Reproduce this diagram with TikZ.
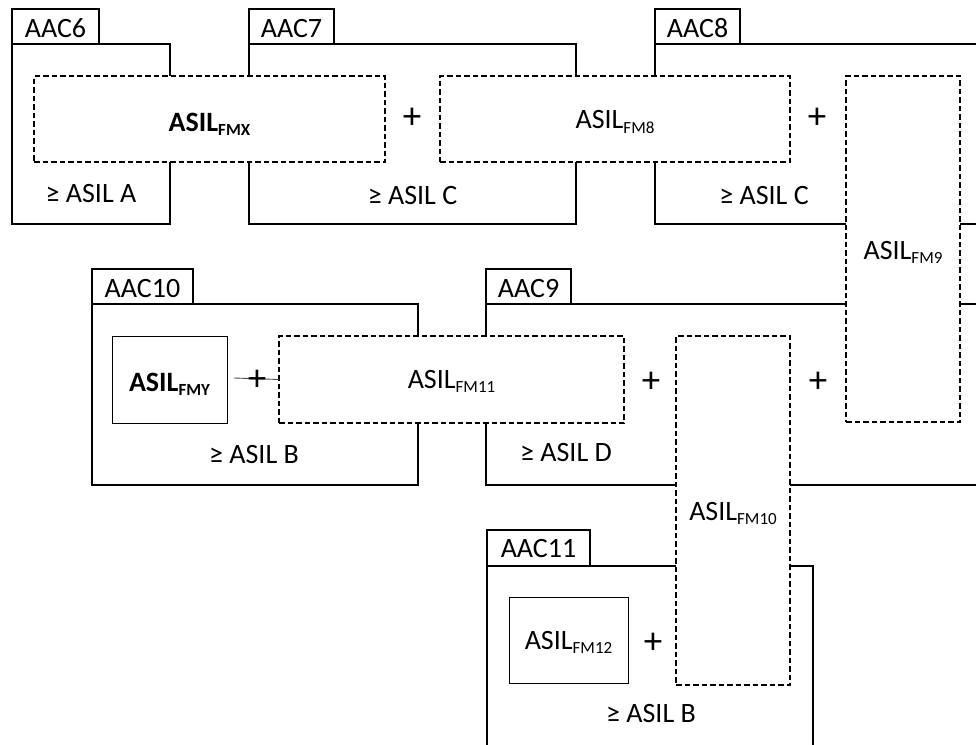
\documentclass[tikz,border=0pt]{standalone}
\usepackage{fontspec}
\setmainfont{Carlito}
\newcommand{\subfm}[1]{\raisebox{-4.5pt}{\fontsize{17}{18}\selectfont #1}}
\begin{document}
\begin{tikzpicture}[x=1pt,y=-1pt,
  every node/.style={inner sep=0pt, outer sep=0pt},
  txt/.style={font=\fontsize{28}{31}\selectfont, anchor=base},
  plussign/.style={font=\fontsize{37}{40}\selectfont},
  aacbox/.style={draw, line width=2.6pt, rectangle},
  tabbox/.style={draw, line width=2.6pt, rectangle, minimum height=35pt},
  fmdash/.style={draw, dash pattern=on 5.5pt off 3pt, line width=1.3pt, fill=white, rectangle},
  fmsolid/.style={draw, line width=0.8pt, fill=white, rectangle},
  joinline/.style={line width=0.9pt, black!70}
]
\useasboundingbox (0,0) rectangle (976,744);
\clip (0,0) rectangle (976,744);

% ---------- AAC containers ----------
\node[aacbox, minimum width=158pt, minimum height=180pt] (aac6) at (91,134) {};
\node[tabbox, minimum width=87pt] (aac6t) at (55.5,26.5) {};
\node[txt] (aac6l) at (55.5,37) {AAC6};
\node[txt] (aac6r) at (91,202) {≥ ASIL A};

\node[aacbox, minimum width=327pt, minimum height=180pt] (aac7) at (412.5,134) {};
\node[tabbox, minimum width=85pt] (aac7t) at (291.5,26.5) {};
\node[txt] (aac7l) at (291.5,37) {AAC7};
\node[txt] (aac7r) at (412.5,204) {≥ ASIL C};

\node[aacbox, minimum width=345pt, minimum height=180pt] (aac8) at (827.5,134) {};
\node[tabbox, minimum width=85pt] (aac8t) at (697.5,26.5) {};
\node[txt] (aac8l) at (697.5,37) {AAC8};
\node[txt] (aac8r) at (764,204) {≥ ASIL C};

\node[aacbox, minimum width=326pt, minimum height=181pt] (aac10) at (255,394.5) {};
\node[tabbox, minimum width=101pt] (aac10t) at (142.5,286.5) {};
\node[txt] (aac10l) at (142.5,297) {AAC10};
\node[txt] (aac10r) at (254,463) {≥ ASIL B};

\node[aacbox, minimum width=514pt, minimum height=181pt] (aac9) at (743,394.5) {};
\node[tabbox, minimum width=85pt] (aac9t) at (528.5,286.5) {};
\node[txt] (aac9l) at (528.5,297) {AAC9};
\node[txt] (aac9r) at (566,461) {≥ ASIL D};

\node[aacbox, minimum width=326pt, minimum height=214pt] (aac11) at (650,673) {};
\node[tabbox, minimum width=103pt, minimum height=36pt] (aac11t) at (538.5,548) {};
\node[txt] (aac11l) at (538.5,557) {AAC11};
\node[txt] (aac11r) at (651,722) {≥ ASIL B};

% ---------- failure-mode boxes ----------
\node[fmdash, minimum width=351pt, minimum height=86pt] (fmx) at (209.5,119) {};
\node[txt] (fmxl) at (209.5,131) {\textbf{ASIL\subfm{FMX}}};

\node[fmdash, minimum width=350pt, minimum height=86pt] (fm8) at (615,119) {};
\node[txt] (fm8l) at (615,128.5) {ASIL\subfm{FM8}};

\node[fmdash, minimum width=114pt, minimum height=346pt] (fm9) at (903,249) {};
\node[txt] (fm9l) at (903,259) {ASIL\subfm{FM9}};

\node[fmsolid, minimum width=115pt, minimum height=87pt] (fmy) at (169.5,379.5) {};
\node[txt] (fmyl) at (169.5,391) {\textbf{ASIL\subfm{FMY}}};

\node[fmdash, minimum width=345pt, minimum height=87pt] (fm11) at (451.5,379.5) {};
\node[txt] (fm11l) at (451.5,388) {ASIL\subfm{FM11}};

\node[fmdash, minimum width=114pt, minimum height=349pt] (fm10) at (733,510.5) {};
\node[txt] (fm10l) at (733,520) {ASIL\subfm{FM10}};

\node[fmsolid, minimum width=119pt, minimum height=86pt] (fm12) at (568.5,640) {};
\node[txt] (fm12l) at (568.5,649) {ASIL\subfm{FM12}};

% ---------- connector FMY -- FM11 ----------
\coordinate (lnS) at (234,378);
\draw[joinline] (lnS) -- (fm11.west);

% ---------- plus signs ----------
\node[plussign] (p1) at (412,118) {+};
\node[plussign] (p2) at (817,118) {+};
\node[plussign] (p3) at (257,380) {+};
\node[plussign] (p4) at (651,382) {+};
\node[plussign] (p5) at (818,382) {+};
\node[plussign] (p6) at (653,643) {+};
\end{tikzpicture}
\end{document}
